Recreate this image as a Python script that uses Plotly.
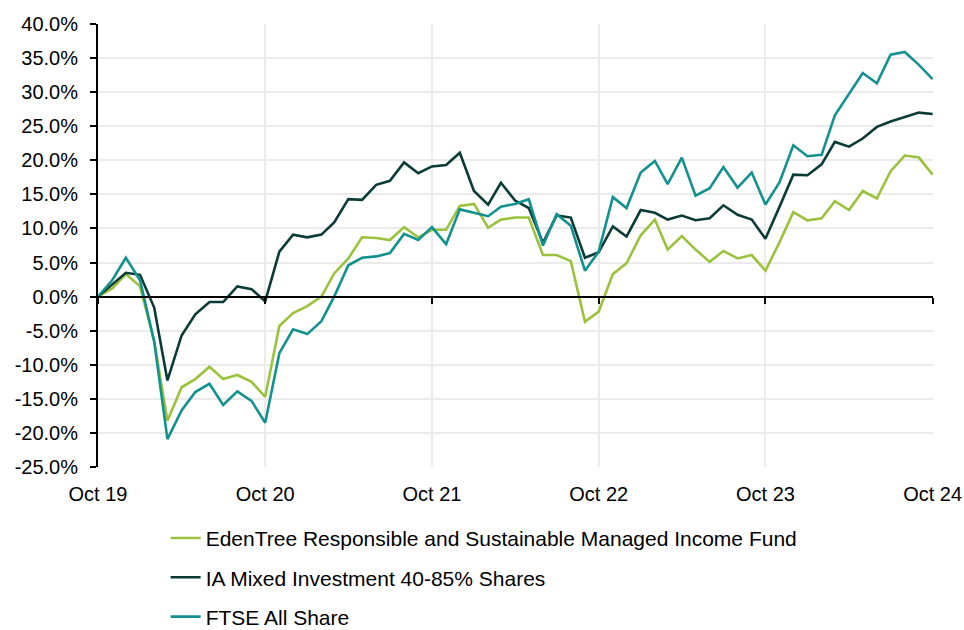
import plotly.graph_objects as go
import pandas as pd

dates = pd.date_range("2019-10-01", periods=61, freq="MS")

edentree = [0.0, 1.2, 3.3, 1.5, -6.5, -18.2, -13.3, -12.1, -10.3, -12.1, -11.5, -12.5, -14.7,
            -4.3, -2.4, -1.4, 0.0, 3.4, 5.6, 8.7, 8.6, 8.3, 10.2, 8.7, 9.8,
            9.8, 13.3, 13.6, 10.1, 11.3, 11.6, 11.6, 6.1, 6.1, 5.2, -3.7, -2.2,
            3.3, 4.9, 9.0, 11.3, 6.9, 8.9, 6.9, 5.1, 6.7, 5.6, 6.1, 3.8,
            8.0, 12.4, 11.2, 11.5, 14.0, 12.7, 15.5, 14.4, 18.4, 20.7, 20.4, 17.9]

ia_mixed = [0.0, 1.8, 3.5, 3.2, -1.6, -12.3, -5.7, -2.6, -0.8, -0.8, 1.5, 1.1, -0.7,
            6.6, 9.1, 8.7, 9.1, 10.9, 14.3, 14.2, 16.4, 17.0, 19.7, 18.1, 19.1,
            19.3, 21.1, 15.5, 13.5, 16.7, 14.1, 13.0, 7.9, 11.9, 11.6, 5.7, 6.5,
            10.3, 8.8, 12.7, 12.3, 11.3, 11.9, 11.2, 11.5, 13.4, 12.0, 11.3, 8.5,
            13.2, 17.9, 17.8, 19.4, 22.7, 22.0, 23.2, 24.9, 25.7, 26.3, 27.0, 26.8]

ftse = [0.0, 2.4, 5.7, 2.4, -6.6, -20.9, -16.7, -14.0, -12.8, -15.9, -13.9, -15.3, -18.5,
        -8.3, -4.8, -5.5, -3.6, 0.0, 4.6, 5.7, 5.9, 6.4, 9.2, 8.3, 10.2,
        7.7, 12.8, 12.3, 11.8, 13.2, 13.6, 14.3, 7.5, 12.1, 10.4, 3.8, 6.6,
        14.6, 13.0, 18.2, 19.9, 16.5, 20.4, 14.8, 15.9, 19.0, 16.0, 18.2, 13.5,
        16.8, 22.2, 20.6, 20.8, 26.6, 29.8, 32.8, 31.3, 35.5, 35.9, 34.0, 31.9]

names = ["EdenTree Responsible and Sustainable Managed Income Fund",
         "IA Mixed Investment 40-85% Shares",
         "FTSE All Share"]
colors = ["#9BC23C", "#0B3B36", "#13918E"]

tick_dates = pd.date_range("2019-10-01", periods=6, freq="12MS")
tick_labels = ["Oct 19", "Oct 20", "Oct 21", "Oct 22", "Oct 23", "Oct 24"]
y_ticks = list(range(-25, 41, 5))
y_labels = [f"{v:.1f}%" for v in y_ticks]

fig = go.Figure()
for i, (vals, nm, col) in enumerate(zip([edentree, ia_mixed, ftse], names, colors)):
    fig.add_trace(go.Scatter(x=dates, y=vals, name=nm, mode="lines",
                             line=dict(color=col, width=2.6), legendgroup=str(i)))

# dummy trace to host the axis drawn at y=0
fig.add_trace(go.Scatter(x=[dates[0]], y=[None], xaxis="x2", showlegend=False,
                         hoverinfo="skip", mode="lines"))

font = dict(family="Liberation Sans, Arial, sans-serif", size=20, color="#000000")
lfont = dict(family="Liberation Sans, Arial, sans-serif", size=21, color="#000000")
xr = [dates[0], dates[-1] + pd.Timedelta(hours=20)]
zero_pos = (0 - (-25)) / 65

fig.update_layout(
    width=964, height=630,
    margin=dict(l=98, r=31, t=24, b=163, autoexpand=False),
    paper_bgcolor="white", plot_bgcolor="white",
    font=font,
    showlegend=True,
    legend=dict(x=0.081, xref="paper", y=0.178, yref="container",
                xanchor="left", yanchor="top",
                orientation="v", font=lfont, tracegroupgap=9,
                bgcolor="rgba(0,0,0,0)"),
    xaxis=dict(range=xr, tickvals=tick_dates, ticktext=tick_labels,
               showgrid=True, gridcolor="#EBEBEB", gridwidth=1.5,
               showline=False, zeroline=False, ticks="", ticklabelstandoff=13,
               tickfont=font, automargin=False, ticklabeloverflow="allow"),
    xaxis2=dict(range=xr, overlaying="x", anchor="free", position=zero_pos,
                tickvals=tick_dates, ticktext=["" for _ in tick_labels],
                showgrid=False, showline=True, linecolor="black", linewidth=2,
                ticks="outside", ticklen=6, tickwidth=2, tickcolor="black",
                zeroline=False, showticklabels=False, automargin=False),
    yaxis=dict(range=[-25, 40], tickvals=y_ticks, ticktext=y_labels,
               showgrid=True, gridcolor="#EBEBEB", gridwidth=1.5,
               zeroline=False, showline=True, linecolor="black", linewidth=2,
               ticks="outside", ticklen=6, tickwidth=2, tickcolor="black",
               ticklabelstandoff=8,
               tickfont=font, automargin=False),
)

fig.write_html("out.html")
